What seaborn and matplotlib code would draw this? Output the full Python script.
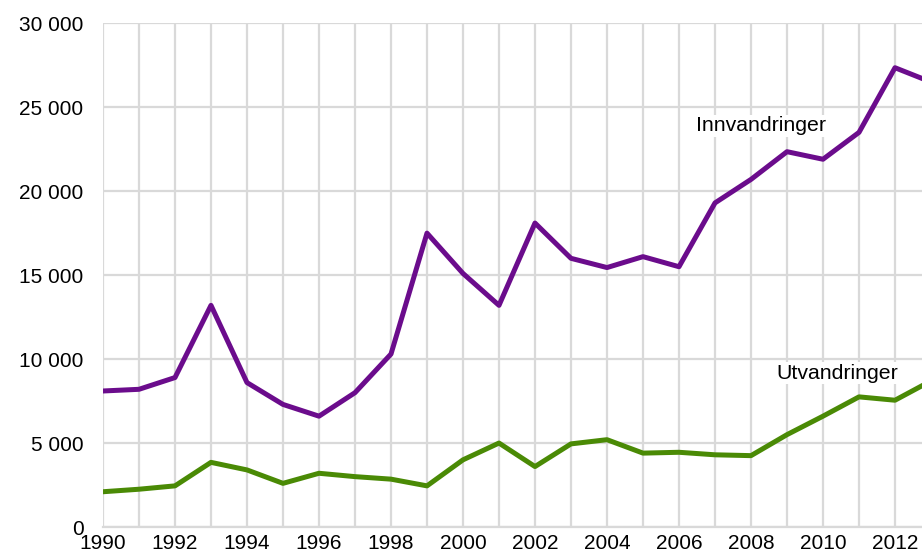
import matplotlib
matplotlib.use("Agg")
import matplotlib.pyplot as plt
from matplotlib.ticker import FuncFormatter, MultipleLocator
import pandas as pd
import seaborn as sns

# Data
years = list(range(1990, 2014))
innvandringer = [8100, 8200, 8900, 13200, 8600, 7300, 6600, 8000, 10300, 17500,
                 15100, 13200, 18100, 16000, 15450, 16100, 15500, 19300, 20700, 22350,
                 21900, 23500, 27350, 26500]
utvandringer = [2100, 2250, 2450, 3850, 3400, 2600, 3200, 3000, 2850, 2450,
                4000, 5000, 3600, 4950, 5200, 4400, 4450, 4300, 4250, 5500,
                6600, 7750, 7550, 8700]
series_names = ["Innvandringer", "Utvandringer"]
colors = ["#6b0c8c", "#4a8a05"]

df = pd.DataFrame({
    "year": years * 2,
    "value": innvandringer + utvandringer,
    "series": [series_names[0]] * len(years) + [series_names[1]] * len(years),
})

sns.set_theme(style="white")
plt.rcParams["font.family"] = ["Liberation Sans", "DejaVu Sans"]

fig = plt.figure(figsize=(9.22, 5.53), dpi=100)
ax = fig.add_axes([0.1117, 0.047, 0.8883, 0.911])

sns.lineplot(data=df, x="year", y="value", hue="series", palette=colors,
             linewidth=3.6, legend=False, ax=ax, zorder=3)

ax.set_xlim(1990, 2012.75)
ax.set_ylim(0, 30000)
ax.xaxis.set_major_locator(MultipleLocator(2))
ax.xaxis.set_minor_locator(MultipleLocator(1))
ax.yaxis.set_major_locator(MultipleLocator(5000))
ax.yaxis.set_major_formatter(FuncFormatter(lambda v, p: f"{int(v):,}".replace(",", " ")))

ax.grid(True, which="both", axis="x", color="#d9d9d9", linewidth=1.6)
ax.grid(True, which="major", axis="y", color="#d9d9d9", linewidth=1.6)
ax.set_axisbelow(True)

for side in ["top", "right", "left"]:
    ax.spines[side].set_visible(False)
ax.spines["bottom"].set_color("#d9d9d9")
ax.spines["bottom"].set_linewidth(1.6)

ax.tick_params(axis="both", which="both", length=0, labelsize=15, colors="black")
ax.tick_params(axis="y", pad=14)
ax.tick_params(axis="x", pad=5)
ax.set_xlabel("")
ax.set_ylabel("")

# series labels sit on a white box that hides the grid, but not the lines
label_pos = [(2008.28, 23900), (2010.39, 9170)]
for name, (lx, ly) in zip(series_names, label_pos):
    ax.text(lx, ly, name, fontsize=15.3, ha="center", va="center", color="black",
            zorder=2, bbox=dict(facecolor="white", edgecolor="none", pad=1))

fig.savefig("out.png", dpi=100)
